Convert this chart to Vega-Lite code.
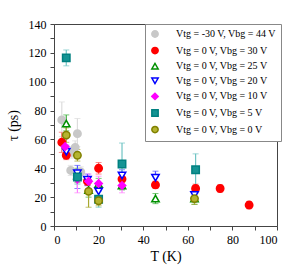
{
  "$schema": "https://vega.github.io/schema/vega-lite/v6.json",
  "width": 223,
  "height": 202,
  "autosize": {"type": "none"},
  "padding": {"left": 54, "top": 24, "right": 13, "bottom": 49},
  "background": "white",
  "config": {
    "font": "Liberation Serif",
    "view": {"stroke": "#444", "strokeWidth": 1},
    "axis": {
      "labelFont": "Liberation Serif",
      "titleFont": "Liberation Serif",
      "labelFontSize": 12,
      "titleFontSize": 14,
      "titleFontWeight": "normal",
      "labelColor": "black",
      "titleColor": "black",
      "domainColor": "#444",
      "tickColor": "#444",
      "labelOverlap": false,
      "grid": false
    },
    "legend": {
      "orient": "none", "legendX": 91, "legendY": 0,
      "strokeColor": "#888", "fillColor": "white", "padding": 5,
      "labelFont": "Liberation Serif", "labelFontSize": 10, "labelColor": "black",
      "labelOffset": 16, "rowPadding": 2.6, "symbolSize": 40, "labelLimit": 200,
      "symbolStrokeWidth": 1.5
    }
  },
  "data": {
    "values": [
      {"s": "Vtg = -30 V, Vbg = 44 V", "T": 3.5, "tau": 73.5, "lo": 62, "hi": 86},
      {"s": "Vtg = -30 V, Vbg = 44 V", "T": 10.5, "tau": 64, "lo": 55, "hi": 74.5},
      {"s": "Vtg = -30 V, Vbg = 44 V", "T": 9.5, "tau": 54.5, "lo": 50, "hi": 59},
      {"s": "Vtg = -30 V, Vbg = 44 V", "T": 8, "tau": 51, "lo": 47, "hi": 55},
      {"s": "Vtg = -30 V, Vbg = 44 V", "T": 7.5, "tau": 38.5, "lo": 35, "hi": 42},
      {"s": "Vtg = -30 V, Vbg = 44 V", "T": 12, "tau": 37.5, "lo": 34, "hi": 41},
      {"s": "Vtg = 0 V, Vbg = 30 V", "T": 3.5, "tau": 58, "lo": 51, "hi": 65},
      {"s": "Vtg = 0 V, Vbg = 30 V", "T": 5.5, "tau": 49, "lo": 46, "hi": 52},
      {"s": "Vtg = 0 V, Vbg = 30 V", "T": 15, "tau": 31, "lo": 28, "hi": 34},
      {"s": "Vtg = 0 V, Vbg = 30 V", "T": 20, "tau": 40, "lo": 36, "hi": 44},
      {"s": "Vtg = 0 V, Vbg = 30 V", "T": 30.5, "tau": 32.5, "lo": 29, "hi": 36},
      {"s": "Vtg = 0 V, Vbg = 30 V", "T": 45.5, "tau": 28.5, "lo": 26, "hi": 31},
      {"s": "Vtg = 0 V, Vbg = 30 V", "T": 63.5, "tau": 26, "lo": 23, "hi": 29},
      {"s": "Vtg = 0 V, Vbg = 30 V", "T": 74.5, "tau": 26, "lo": 23.5, "hi": 28.5},
      {"s": "Vtg = 0 V, Vbg = 30 V", "T": 87.5, "tau": 14.5, "lo": 12, "hi": 17},
      {"s": "Vtg = 0 V, Vbg = 25 V", "T": 5.5, "tau": 71, "lo": 66, "hi": 77},
      {"s": "Vtg = 0 V, Vbg = 25 V", "T": 10.5, "tau": 35, "lo": 30, "hi": 40},
      {"s": "Vtg = 0 V, Vbg = 25 V", "T": 15.5, "tau": 25, "lo": 20, "hi": 30},
      {"s": "Vtg = 0 V, Vbg = 25 V", "T": 20, "tau": 29, "lo": 26, "hi": 33},
      {"s": "Vtg = 0 V, Vbg = 25 V", "T": 30.5, "tau": 28, "lo": 25, "hi": 31},
      {"s": "Vtg = 0 V, Vbg = 25 V", "T": 45.5, "tau": 19, "lo": 15.5, "hi": 22.5},
      {"s": "Vtg = 0 V, Vbg = 25 V", "T": 63, "tau": 19, "lo": 15, "hi": 23},
      {"s": "Vtg = 0 V, Vbg = 20 V", "T": 5.5, "tau": 51.5, "lo": 47, "hi": 56},
      {"s": "Vtg = 0 V, Vbg = 20 V", "T": 10.5, "tau": 36.5, "lo": 26, "hi": 42},
      {"s": "Vtg = 0 V, Vbg = 20 V", "T": 15, "tau": 32, "lo": 28, "hi": 36},
      {"s": "Vtg = 0 V, Vbg = 20 V", "T": 20, "tau": 24, "lo": 19, "hi": 29},
      {"s": "Vtg = 0 V, Vbg = 20 V", "T": 30.5, "tau": 35, "lo": 31, "hi": 39},
      {"s": "Vtg = 0 V, Vbg = 20 V", "T": 45.5, "tau": 33.5, "lo": 29.5, "hi": 38},
      {"s": "Vtg = 0 V, Vbg = 20 V", "T": 63, "tau": 21.5, "lo": 18, "hi": 25},
      {"s": "Vtg = 0 V, Vbg = 10 V", "T": 5, "tau": 55, "lo": 50, "hi": 60},
      {"s": "Vtg = 0 V, Vbg = 10 V", "T": 10.5, "tau": 32.5, "lo": 23, "hi": 37},
      {"s": "Vtg = 0 V, Vbg = 10 V", "T": 15.5, "tau": 31, "lo": 26, "hi": 36},
      {"s": "Vtg = 0 V, Vbg = 10 V", "T": 20, "tau": 29.5, "lo": 24.5, "hi": 34.5},
      {"s": "Vtg = 0 V, Vbg = 10 V", "T": 30.5, "tau": 28, "lo": 23, "hi": 33},
      {"s": "Vtg = 0 V, Vbg = 5 V", "T": 5.5, "tau": 116.5, "lo": 111, "hi": 122},
      {"s": "Vtg = 0 V, Vbg = 5 V", "T": 10.5, "tau": 34, "lo": 29, "hi": 39},
      {"s": "Vtg = 0 V, Vbg = 5 V", "T": 20, "tau": 18.5, "lo": 13, "hi": 24},
      {"s": "Vtg = 0 V, Vbg = 5 V", "T": 30.5, "tau": 43, "lo": 28, "hi": 57.5},
      {"s": "Vtg = 0 V, Vbg = 5 V", "T": 63.5, "tau": 39, "lo": 28, "hi": 50},
      {"s": "Vtg = 0 V, Vbg = 0 V", "T": 5.5, "tau": 63, "lo": 58, "hi": 68},
      {"s": "Vtg = 0 V, Vbg = 0 V", "T": 10.5, "tau": 49, "lo": 45, "hi": 53},
      {"s": "Vtg = 0 V, Vbg = 0 V", "T": 15.5, "tau": 24, "lo": 13, "hi": 34},
      {"s": "Vtg = 0 V, Vbg = 0 V", "T": 20, "tau": 17.5, "lo": 14, "hi": 21},
      {"s": "Vtg = 0 V, Vbg = 0 V", "T": 63, "tau": 19, "lo": 15, "hi": 23}
    ]
  },
  "resolve": {"legend": {"color": "independent", "fill": "independent", "stroke": "independent", "shape": "independent"}},
  "layer": [
    {
      "mark": {"type": "errorbar", "ticks": {"size": 6, "thickness": 1}, "rule": {"strokeWidth": 1.2}},
      "encoding": {
        "x": {
          "field": "T", "type": "quantitative", "title": "T (K)",
          "scale": {"domain": [0, 100], "nice": false},
          "axis": {
            "values": [0, 10, 20, 30, 40, 50, 60, 70, 80, 90, 100],
            "labelExpr": "datum.value % 20 === 0 ? datum.label : ''",
            "labelOverlap": false,
            "tickSize": 4, "labelPadding": 4, "titlePadding": 4
          }
        },
        "y": {
          "field": "lo", "type": "quantitative", "title": "τ (ps)",
          "scale": {"domain": [0, 140], "nice": false},
          "axis": {
            "values": [0, 10, 20, 30, 40, 50, 60, 70, 80, 90, 100, 110, 120, 130, 140],
            "labelExpr": "datum.value % 20 === 0 ? datum.label : ''",
            "labelOverlap": false, "labelBound": false, "labelSeparation": 0,
            "tickSize": 4, "labelPadding": 4, "titlePadding": 8
          }
        },
        "y2": {"field": "hi"},
        "color": {
          "field": "s", "type": "nominal", "legend": null,
          "scale": {
            "domain": ["Vtg = -30 V, Vbg = 44 V", "Vtg = 0 V, Vbg = 30 V", "Vtg = 0 V, Vbg = 25 V", "Vtg = 0 V, Vbg = 20 V", "Vtg = 0 V, Vbg = 10 V", "Vtg = 0 V, Vbg = 5 V", "Vtg = 0 V, Vbg = 0 V"],
            "range": ["#dcdcdc", "#ff6060", "#40b040", "#5050ff", "#ff80ff", "#70c4c4", "#a8a830"]
          }
        }
      }
    },
    {
      "mark": {"type": "point", "filled": true, "size": 55, "strokeWidth": 1.5, "opacity": 1},
      "encoding": {
        "x": {
          "field": "T", "type": "quantitative", "title": "T (K)",
          "scale": {"domain": [0, 100], "nice": false},
          "axis": {
            "values": [0, 10, 20, 30, 40, 50, 60, 70, 80, 90, 100],
            "labelExpr": "datum.value % 20 === 0 ? datum.label : ''",
            "labelOverlap": false,
            "tickSize": 4, "labelPadding": 4, "titlePadding": 4
          }
        },
        "y": {
          "field": "tau", "type": "quantitative", "title": "τ (ps)",
          "scale": {"domain": [0, 140], "nice": false},
          "axis": {
            "values": [0, 10, 20, 30, 40, 50, 60, 70, 80, 90, 100, 110, 120, 130, 140],
            "labelExpr": "datum.value % 20 === 0 ? datum.label : ''",
            "labelOverlap": false, "labelBound": false, "labelSeparation": 0,
            "tickSize": 4, "labelPadding": 4, "titlePadding": 8
          }
        },
        "shape": {
          "field": "s", "type": "nominal", "title": null,
          "scale": {
            "domain": ["Vtg = -30 V, Vbg = 44 V", "Vtg = 0 V, Vbg = 30 V", "Vtg = 0 V, Vbg = 25 V", "Vtg = 0 V, Vbg = 20 V", "Vtg = 0 V, Vbg = 10 V", "Vtg = 0 V, Vbg = 5 V", "Vtg = 0 V, Vbg = 0 V"],
            "range": ["circle", "circle", "triangle-up", "triangle-down", "diamond", "square", "circle"]
          }
        },
        "fill": {
          "field": "s", "type": "nominal", "title": null,
          "scale": {
            "domain": ["Vtg = -30 V, Vbg = 44 V", "Vtg = 0 V, Vbg = 30 V", "Vtg = 0 V, Vbg = 25 V", "Vtg = 0 V, Vbg = 20 V", "Vtg = 0 V, Vbg = 10 V", "Vtg = 0 V, Vbg = 5 V", "Vtg = 0 V, Vbg = 0 V"],
            "range": ["#c8c8c8", "#ff0000", "#ffffff", "#ffffff", "#ff00ff", "#149494", "#b4b430"]
          }
        },
        "stroke": {
          "field": "s", "type": "nominal", "title": null,
          "scale": {
            "domain": ["Vtg = -30 V, Vbg = 44 V", "Vtg = 0 V, Vbg = 30 V", "Vtg = 0 V, Vbg = 25 V", "Vtg = 0 V, Vbg = 20 V", "Vtg = 0 V, Vbg = 10 V", "Vtg = 0 V, Vbg = 5 V", "Vtg = 0 V, Vbg = 0 V"],
            "range": ["#c8c8c8", "#ff0000", "#009000", "#0000ff", "#ff00ff", "#008080", "#808000"]
          }
        }
      }
    }
  ]
}
